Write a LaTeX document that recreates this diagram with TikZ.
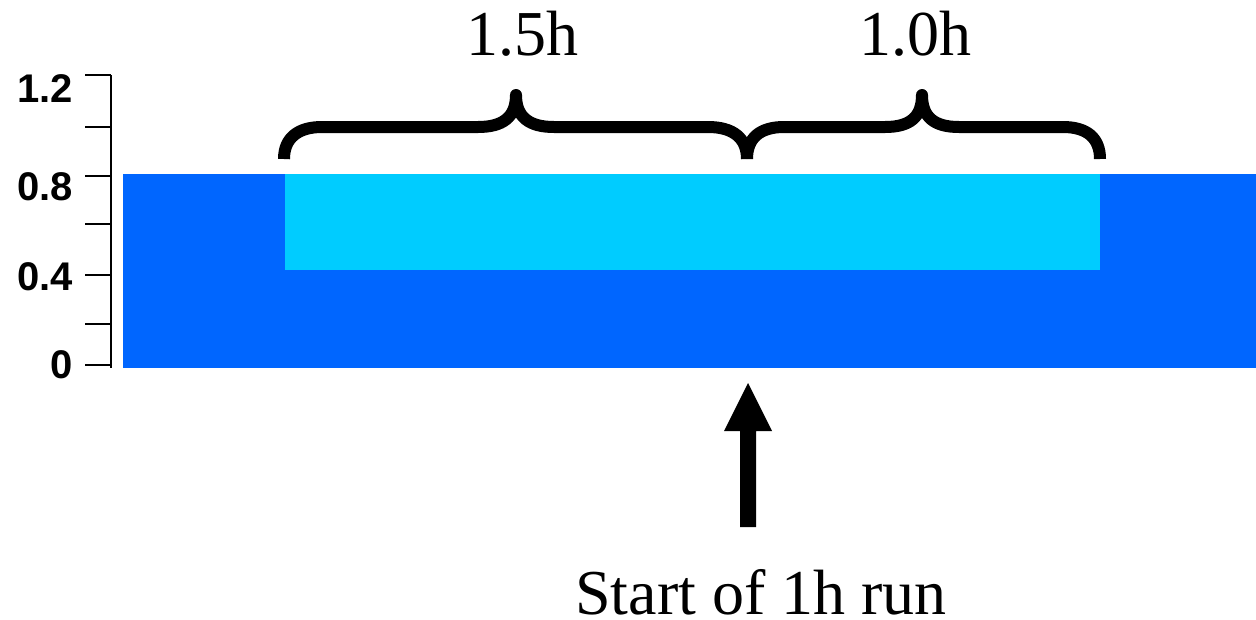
\documentclass[tikz,border=0pt]{standalone}
\usepackage{fontspec}
\setmainfont{Liberation Serif}
\newfontfamily\axisfont{Liberation Sans}
\definecolor{deepblue}{HTML}{0066FF}
\definecolor{skyblue}{HTML}{00CCFF}
\begin{document}
\begin{tikzpicture}[x=1pt,y=-1pt,
  ticklabel/.style={anchor=base east,inner sep=0pt,font=\axisfont\bfseries\fontsize{40}{44}\selectfont},
  biglabel/.style={anchor=base,inner sep=0pt,text depth=0pt,font=\fontsize{64}{70}\selectfont},
  bracestroke/.style={line width=12pt,line join=round,line cap=butt},
  axisline/.style={line width=2.4pt}]
\useasboundingbox (0,0) rectangle (1256,619);

% water layers
\fill[deepblue] (123,174) rectangle (1256,368);
\fill[skyblue] (285,174) rectangle (1100,270);

% vertical scale
\draw[axisline] (111,75) -- (111,368);
\foreach \y in {75,127,176,224,275,324,365}
  \draw[axisline] (85,\y) -- (111,\y);
\node[ticklabel] (l12) at (73,102) {1.2};
\node[ticklabel] (l08) at (73,200) {0.8};
\node[ticklabel] (l04) at (73,290) {0.4};
\node[ticklabel] (l00) at (73,378) {0};

% braces over the bright segment
\draw[bracestroke] (284,159) .. controls (284,138) and (298,127) .. (322,127)
  -- (478,127) .. controls (503,127) and (516,117) .. (516,95)
  .. controls (516,117) and (529,127) .. (554,127)
  -- (708,127) .. controls (733,127) and (747,138) .. (747,159);
\draw[bracestroke] (747,159) .. controls (747,138) and (760,127) .. (784,127)
  -- (885,127) .. controls (910,127) and (922,117) .. (922,95)
  .. controls (922,117) and (934,127) .. (959,127)
  -- (1063,127) .. controls (1087,127) and (1100,138) .. (1100,159);

\node[biglabel] (first) at (522,55) {1.5h};
\node[biglabel] (second) at (915,55) {1.0h};

% start marker
\fill (740,527) -- (740,431) -- (724,431) -- (748,383) -- (772,431)
  -- (756,431) -- (756,527) -- cycle;
\node[biglabel] (start) at (761,614) {Start of 1h run};
\end{tikzpicture}
\end{document}
